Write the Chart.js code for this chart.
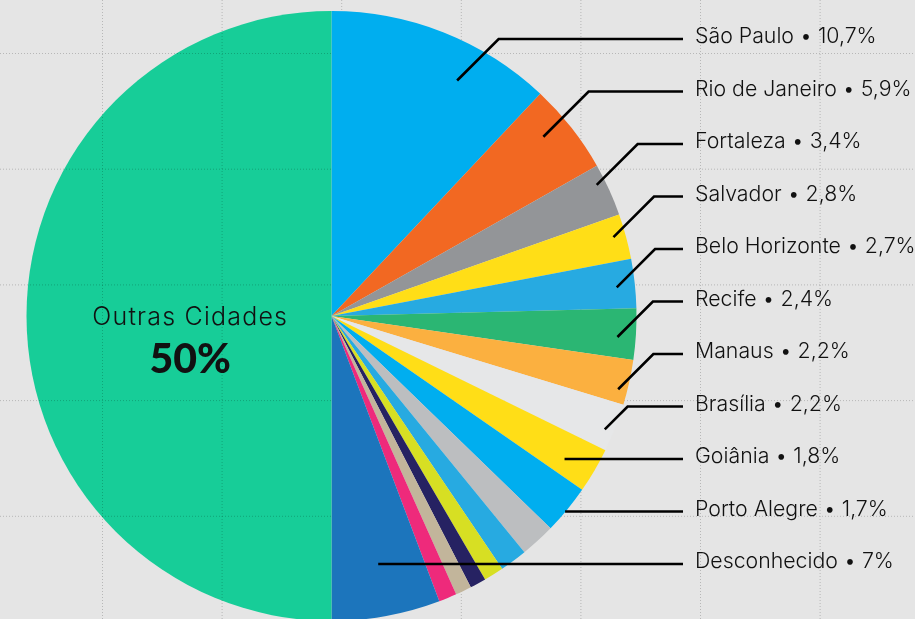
<!DOCTYPE html>
<html>
<head>
<meta charset="utf-8">
<script src="https://cdn.jsdelivr.net/npm/chart.js@4.4.1/dist/chart.umd.min.js"></script>
<style>
    html, body { margin: 0; padding: 0; background: #e5e5e5; overflow: hidden; }
    #chartCanvas { display: block; }
</style>
</head>
<body>
<canvas id="chartCanvas" width="915" height="619"></canvas>
<script>
// slice names, clockwise from the top (6 small slices carry no label in the original)
const sliceNames = ['São Paulo', 'Rio de Janeiro', 'Fortaleza', 'Salvador', 'Belo Horizonte', 'Recife',
    'Manaus', 'Brasília', 'Goiânia', 'Porto Alegre', '', '', '', '', '', '', 'Desconhecido', 'Outras Cidades'];
// percentages printed on the callouts
const printedShares = [10.7, 5.9, 3.4, 2.8, 2.7, 2.4, 2.2, 2.2, 1.8, 1.7, null, null, null, null, null, null, 7, 50];
// slice sizes as drawn (measured from the angles in the picture)
const sliceSizes = [12.0, 4.8, 2.8, 2.4, 2.6, 2.7, 2.4, 2.55, 2.4, 2.6, 1.85, 1.45, 1.05, 0.85, 0.85, 0.95, 5.75, 50];
const sliceColors = ['#00aeef', '#f26822', '#939598', '#ffde17', '#27aae1', '#2bb673', '#fbb040', '#e6e7e8',
    '#ffde17', '#00aeef', '#bcbec0', '#27aae1', '#d7df23', '#262262', '#c2b59b', '#ee2a7b', '#1c75bc', '#17cd98'];

// where each leader line starts inside its slice: [fraction of the slice angle, fraction of the radius, straight]
const leaderAnchors = [
    [0.65, 0.875, false], [0.38, 0.91, false], [0.32, 0.97, false], [0.44, 0.96, false],
    [0.54, 0.94, false], [0.58, 0.94, false], [0.70, 0.97, false], [0.61, 0.97, false],
    [0.55, 0.89, true], [0.49, 0.99, true], [0.48, 0.82, true]
];

const labelFont = '300 21.3px Inter, sans-serif';

function formatShare(v) {
    return String(v).replace('.', ',') + '%';
}

function drawGrid(ctx, w, h, color) {
    ctx.save();
    ctx.strokeStyle = color;
    ctx.lineWidth = 1;
    ctx.setLineDash([1, 2]);
    for (let x = 102.5; x < w; x += 119.6) {
        ctx.beginPath();
        ctx.moveTo(x, 0);
        ctx.lineTo(x, h);
        ctx.stroke();
    }
    for (let y = 53.5; y < h; y += 115.7) {
        ctx.beginPath();
        ctx.moveTo(0, y);
        ctx.lineTo(w, y);
        ctx.stroke();
    }
    ctx.restore();
}

const backgroundPlugin = {
    id: 'paperBackground',
    beforeDraw(chart) {
        const { ctx, width, height } = chart;
        ctx.save();
        ctx.fillStyle = '#e5e5e5';
        ctx.fillRect(0, 0, width, height);
        ctx.restore();
        drawGrid(ctx, width, height, 'rgba(120,120,120,0.42)');
    }
};

const calloutPlugin = {
    id: 'callouts',
    afterDatasetsDraw(chart) {
        const { ctx, width, height } = chart;
        const meta = chart.getDatasetMeta(0);
        const last = meta.data.length - 1;

        // grid showing through the big slice
        const big = meta.data[last];
        ctx.save();
        ctx.beginPath();
        ctx.moveTo(big.x, big.y);
        ctx.arc(big.x, big.y, big.outerRadius, big.startAngle, big.endAngle);
        ctx.closePath();
        ctx.clip();
        drawGrid(ctx, width, height, 'rgba(0,60,40,0.28)');
        ctx.restore();

        // callouts on the right
        const callouts = [];
        sliceNames.forEach((name, i) => {
            if (i !== last && printedShares[i] !== null) callouts.push(i);
        });

        const textX = 695;
        const lineEndX = 683;
        ctx.save();
        ctx.font = labelFont;
        ctx.textBaseline = 'middle';
        ctx.fillStyle = '#111';
        ctx.strokeStyle = '#000';
        ctx.lineWidth = 2.6;
        ctx.lineJoin = 'miter';

        callouts.forEach((idx, k) => {
            const arc = meta.data[idx];
            const [af, rf, straight] = leaderAnchors[k];
            const textY = 37 + k * 52.5;
            const lineY = textY + 2;
            const a = arc.startAngle + (arc.endAngle - arc.startAngle) * af;
            const r = arc.outerRadius * rf;
            const px = arc.x + Math.cos(a) * r;
            const py = arc.y + Math.sin(a) * r;

            ctx.beginPath();
            if (!straight) {
                const d = py - lineY;
                ctx.moveTo(px, py);
                ctx.lineTo(px + d, lineY);
                ctx.lineTo(lineEndX, lineY);
            } else {
                ctx.moveTo(px, lineY);
                ctx.lineTo(lineEndX, lineY);
            }
            ctx.stroke();

            ctx.fillText(sliceNames[idx] + ' • ' + formatShare(printedShares[idx]), textX, textY);
        });

        // label inside the big slice
        const ma = (big.startAngle + big.endAngle) / 2;
        const cx = big.x + Math.cos(ma) * big.outerRadius * 0.463;
        const cy = big.y + Math.sin(ma) * big.outerRadius * 0.463;
        ctx.textAlign = 'center';
        ctx.font = '300 25px Inter, sans-serif';
        ctx.letterSpacing = '1.2px';
        ctx.fillText(sliceNames[last], cx, cy + 1);
        ctx.letterSpacing = '0px';
        ctx.font = '900 41px Lato, sans-serif';
        ctx.fillText(formatShare(printedShares[last]), cx, cy + 44);
        ctx.restore();
    }
};

const canvas = document.getElementById('chartCanvas');
new Chart(canvas.getContext('2d'), {
    type: 'pie',
    data: {
        labels: sliceNames,
        datasets: [{
            data: sliceSizes,
            backgroundColor: sliceColors,
            borderWidth: 0,
            radius: 305,
            clip: false
        }]
    },
    options: {
        responsive: false,
        animation: false,
        layout: { padding: { left: 26, right: 278, top: 13, bottom: 0 } },
        plugins: {
            legend: { display: false },
            tooltip: { enabled: false }
        }
    },
    plugins: [backgroundPlugin, calloutPlugin]
});
</script>
</body>
</html>
